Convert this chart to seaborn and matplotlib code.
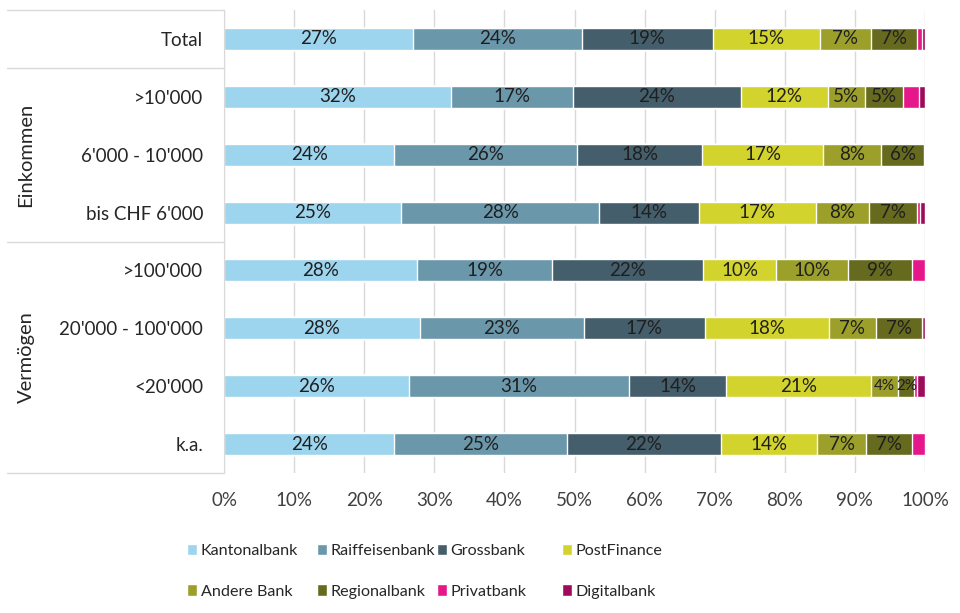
import pandas as pd
import matplotlib.pyplot as plt
import seaborn as sns
from matplotlib.patches import Patch
from matplotlib.transforms import blended_transform_factory

# Kategorien und Banken
categories = ["Total", ">10'000", "6'000 - 10'000", "bis CHF 6'000",
              ">100'000", "20'000 - 100'000", "<20'000", "k.a."]
banks = ["Kantonalbank", "Raiffeisenbank", "Grossbank", "PostFinance",
         "Andere Bank", "Regionalbank", "Privatbank", "Digitalbank"]

# Anteile in %
kantonal = [27.0, 32.4, 24.3, 25.3, 27.6, 27.9, 26.4, 24.3]
raiffeisen = [24.1, 17.4, 26.1, 28.2, 19.2, 23.4, 31.4, 24.6]
gross = [18.6, 23.9, 17.8, 14.2, 21.6, 17.3, 13.8, 22.0]
postfinance = [15.3, 12.4, 17.3, 16.7, 10.4, 17.7, 20.7, 13.7]
andere = [7.3, 5.3, 8.2, 7.6, 10.2, 6.7, 3.9, 7.0]
regional = [6.6, 5.4, 6.2, 6.9, 9.2, 6.6, 2.3, 6.6]
privat = [0.7, 2.3, 0.0, 0.4, 1.8, 0.0, 0.3, 1.8]
digital = [0.4, 0.9, 0.1, 0.7, 0.0, 0.4, 1.2, 0.0]

colors = ["#9dd4ee", "#6b97ab", "#445e6b", "#d3d32e",
          "#9ca02a", "#666a1f", "#e5178a", "#9e0b5a"]
labelled = banks[:6]

df = pd.DataFrame({"Gruppe": categories})
for b, vals in zip(banks, [kantonal, raiffeisen, gross, postfinance,
                           andere, regional, privat, digital]):
    df[b] = vals
cum = df[banks].cumsum(axis=1)

sns.set_style("white")
plt.rcParams['font.family'] = ['Lato', 'DejaVu Sans']

fig = plt.figure(figsize=(9.6, 6.13), dpi=100)
ax = fig.add_axes([224/960, 1-473/613, 701/960, 463/613])

# gestapelte Balken: kumulierte Summen von hinten nach vorne
for b, c in reversed(list(zip(banks, colors))):
    sns.barplot(x=cum[b], y=df["Gruppe"], orient="h", color=c,
                saturation=1, width=0.38, ax=ax)

# Beschriftungen (schmale Segmente etwas kleiner)
for b in labelled:
    for i, v in enumerate(df[b]):
        mid = cum[b][i] - v / 2
        fs = 13.5 if v >= 5 else 11
        ax.text(mid, i, f"{v:.0f}%", ha="center", va="center",
                fontsize=fs, color="#1f1f1f")

ax.set_xlim(0, 100)
ax.set_ylim(7.5, -0.5)
ax.set_xticks(range(0, 101, 10))
ax.set_xticklabels([f"{t}%" for t in range(0, 101, 10)])
ax.set_xlabel("")
ax.set_ylabel("")
ax.xaxis.grid(True, color="#d9d9d9", lw=1)
ax.set_axisbelow(True)
for s in ["top", "right", "bottom"]:
    ax.spines[s].set_visible(False)
ax.spines["left"].set_color("#d9d9d9")
ax.tick_params(axis="y", length=0, pad=15, labelsize=13.5, labelcolor="#262626")
ax.tick_params(axis="x", length=5, color="#d9d9d9", pad=9, labelsize=13.5,
               labelcolor="#404040")

# Tabellenlinien links und Gruppen
trans = blended_transform_factory(ax.transAxes, ax.transData)
x0 = (7 - 224) / 701
for y in [-0.5, 0.5, 3.5, 7.5]:
    ax.plot([x0, 0], [y, y], transform=trans, color="#d9d9d9", lw=1,
            clip_on=False)
ax.text((26 - 224) / 701, 2, "Einkommen", rotation=90, transform=trans,
        ha="center", va="center", fontsize=14.5, color="#262626")
ax.text((26 - 224) / 701, 5.5, "Vermögen", rotation=90, transform=trans,
        ha="center", va="center", fontsize=14.5, color="#262626")

# Legende: 4 Spalten, 2 Zeilen
col_x = [187, 317, 437, 562]
for k, x in enumerate(col_x):
    idx = [k, k + 4]
    handles = [Patch(facecolor=colors[j], label=banks[j]) for j in idx]
    fig.legend(handles=handles, loc="upper left",
               bbox_to_anchor=(x / 960, 1 - 544 / 613), frameon=False,
               fontsize=11.6, handlelength=0.65, handleheight=0.7,
               handletextpad=0.2, labelspacing=1.62, borderaxespad=0,
               borderpad=0, labelcolor="#262626")

plt.savefig("out.png", dpi=100)
